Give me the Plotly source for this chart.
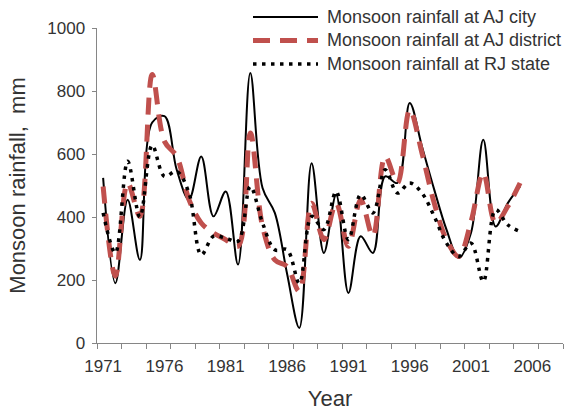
import plotly.graph_objects as go

years = list(range(1971, 2006))

aj_city = [524, 190, 455, 264, 700, 720, 550, 455, 592, 402,
           481, 249, 857, 492, 413, 220, 48, 571, 286, 471,
           159, 339, 286, 529, 508, 762, 624, 487, 360, 270,
           350, 645, 370, 444, 497]

aj_district = [497, 212, 508, 402, 852, 640, 592, 455, 381, 349,
               328, 307, 667, 370, 264, 243, 164, 444, 328, 444,
               307, 455, 339, 592, 508, 741, 603, 444, 328, 275,
               385, 540, 381, 434, 508]

rj_state = [413, 286, 577, 400, 628, 529, 545, 476, 280, 339,
            333, 323, 497, 381, 296, 296, 190, 402, 360, 481,
            328, 471, 413, 550, 476, 508, 476, 402, 317, 275,
            317, 195, 423, 375, 354]

names = ["Monsoon rainfall at AJ city",
         "Monsoon rainfall at AJ district",
         "Monsoon rainfall at RJ state"]

x_labels = list(range(1971, 2007, 5))

FONT = "Liberation Sans, Arial, sans-serif"
AXIS_GRAY = "#868686"
TEXT = "#333333"

W, H = 577, 414
M = dict(l=97, r=14, t=28, b=71)

styles = [
    dict(color="black", width=2),
    dict(color="#C0504D", width=5, dash="17px,10px"),
    dict(color="black", width=3.5, dash="3.5px,5.5px"),
]

fig = go.Figure()
for name, vals, st in zip(names, [aj_city, aj_district, rj_state], styles):
    fig.add_trace(go.Scatter(
        x=years, y=vals, mode="lines", name=name,
        line=dict(st, shape="spline"),
    ))


def px_to_paper(px, py):
    pw = W - M["l"] - M["r"]
    ph = H - M["t"] - M["b"]
    return (px - M["l"]) / pw, (H - M["b"] - py) / ph


# legend drawn by hand, rows as in the reference
for i, (name, st) in enumerate(zip(names, styles)):
    row_y = 17 + i * 23.5
    x0, y0 = px_to_paper(253, row_y)
    x1, _ = px_to_paper(318, row_y)
    xt, _ = px_to_paper(325, row_y)
    fig.add_shape(type="line", xref="paper", yref="paper",
                  x0=x0, x1=x1, y0=y0, y1=y0, line=st)
    fig.add_annotation(xref="paper", yref="paper", x=xt, y=y0,
                       xanchor="left", yanchor="middle", showarrow=False,
                       text=name, font=dict(size=18, color=TEXT))

fig.update_layout(
    width=W, height=H,
    margin=M,
    paper_bgcolor="white", plot_bgcolor="white",
    font=dict(family=FONT, size=18, color=TEXT),
    showlegend=False,
)

fig.update_xaxes(
    range=[1970.5, 2008.5], automargin=False,
    tickmode="array", tickvals=x_labels, ticktext=[str(v) for v in x_labels],
    tickfont=dict(size=17),
    ticks="outside", ticklen=8, tickcolor="rgba(0,0,0,0)",
    minor=dict(tick0=1970.5, dtick=2, ticks="outside", ticklen=5,
               tickcolor=AXIS_GRAY, showgrid=False),
    showline=True, linecolor=AXIS_GRAY, linewidth=1,
    showgrid=False, zeroline=False,
    title=dict(text="Year"),
)

fig.update_yaxes(
    range=[0, 1000], dtick=200, automargin=False,
    tickfont=dict(size=17), ticksuffix="\u2009",
    ticks="outside", ticklen=4, tickcolor=AXIS_GRAY,
    showline=True, linecolor=AXIS_GRAY, linewidth=1,
    showgrid=False, zeroline=False,
    title=dict(text="Monsoon rainfall,\u00a0 mm"),
)

fig.write_html("out.html", config={"displayModeBar": False},
               post_script="document.body.style.margin='0';")
